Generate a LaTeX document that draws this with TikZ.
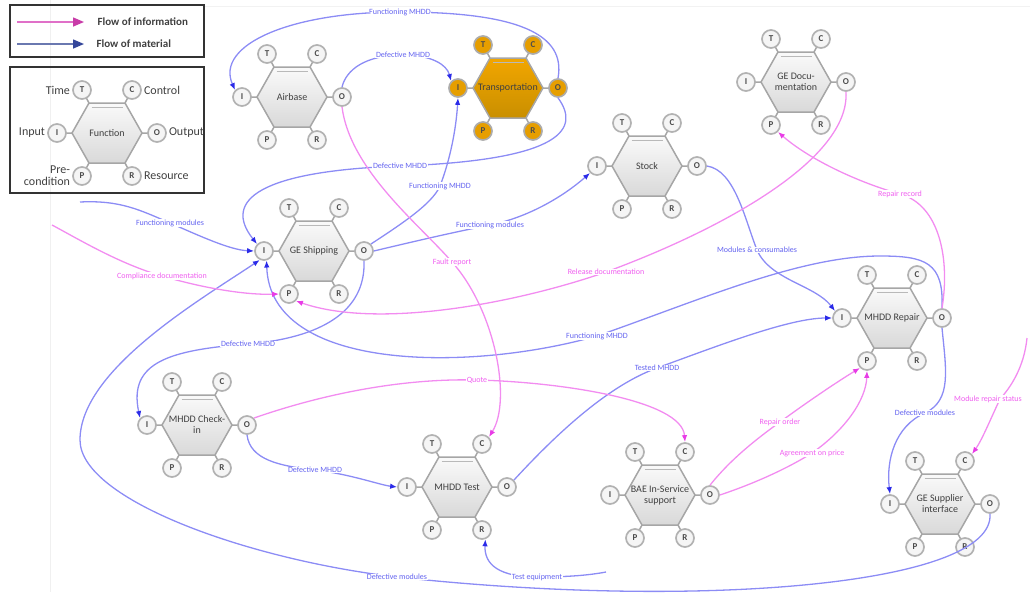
\documentclass[tikz,border=0pt]{standalone}
\usepackage{fontspec}
\setmainfont{Carlito}
\usepackage{tikz}
\usetikzlibrary{arrows.meta, calc, positioning}
\definecolor{matline}{HTML}{8C8CF5}
\definecolor{mattip}{HTML}{2B2BE8}
\definecolor{mattext}{HTML}{6464F0}
\definecolor{infoline}{HTML}{F28CF0}
\definecolor{infotip}{HTML}{E83CE6}
\definecolor{infotext}{HTML}{F060F0}
\definecolor{orangetop}{HTML}{F2A600}
\definecolor{orangebot}{HTML}{C98F00}
\definecolor{legpink}{HTML}{E070C8}
\definecolor{legpinktip}{HTML}{C83CA8}
\definecolor{legblue}{HTML}{6A78B0}
\definecolor{legbluetip}{HTML}{34469A}
\tikzstyle{port} = [circle, draw=gray!60, line width=1.7pt, fill=gray!8, minimum size=18pt, inner sep=0pt, font=\fontsize{9}{9}\selectfont\bfseries, text=black!70]
\tikzstyle{portorange} = [port, fill=orangetop!95!black, draw=gray!65]
\tikzstyle{hexgray} = [draw=gray!70, line width=1.5pt, top color=gray!4, bottom color=gray!30]
\tikzstyle{hexorange} = [draw=gray!70, line width=1.5pt, top color=orangetop, bottom color=orangebot]
\tikzstyle{hexedge} = [draw=gray!70, line width=1.5pt]
\tikzstyle{hexlbl} = [align=center, font=\fontsize{10}{11}\selectfont, text=black!75]
\tikzstyle{mat} = [draw=matline, line width=1.3pt, -{Latex[length=7pt,width=5.5pt,color=mattip]}]
\tikzstyle{info} = [draw=infoline, line width=1.3pt, -{Latex[length=7pt,width=5.5pt,color=infotip]}]
\tikzstyle{matlbl} = [fill=white, inner sep=0.6pt, text=mattext, font=\fontsize{8}{9}\selectfont]
\tikzstyle{infolbl} = [fill=white, inner sep=0.6pt, text=infotext, font=\fontsize{8}{9}\selectfont]
\tikzstyle{legbox} = [draw=black!80, line width=1.6pt]
\tikzstyle{legtxt} = [anchor=west, font=\fontsize{11}{12}\selectfont\bfseries, text=black!75]
\tikzstyle{legside} = [font=\fontsize{12}{12}\selectfont, text=black!75, inner sep=0pt]

% one FRAM function: name, centre, label, hexagon style, port style
\newcommand{\framfn}[5]{%
  \begin{scope}[shift={(#2)}]
    \draw[hexedge] (-25,-43) -- (-18,-30) (25,-43) -- (18,-30) (-50,0) -- (-35,0)
      (50,0) -- (35,0) (-25,43) -- (-18,30) (25,43) -- (18,30);
    \draw[#4] (-35,0) -- (-18,-30) -- (18,-30) -- (35,0) -- (18,30) -- (-18,30) -- cycle;
    \draw[draw=gray!55, line width=0.8pt] (-15.5,-26) -- (15.5,-26);
    \node[hexlbl] (#1) at (0,0) {#3};
    \node[#5] (#1-T) at (-25,-43) {T};
    \node[#5] (#1-C) at (25,-43) {C};
    \node[#5] (#1-I) at (-50,0) {I};
    \node[#5] (#1-O) at (50,0) {O};
    \node[#5] (#1-P) at (-25,43) {P};
    \node[#5] (#1-R) at (25,43) {R};
  \end{scope}}

\begin{document}
\begin{tikzpicture}[x=1pt, y=-1pt]
\useasboundingbox (0,0) rectangle (1030,592);
\clip (0,0) rectangle (1030,592);
\draw[gray!12, line width=1pt] (50,0) -- (50,592);
\draw[gray!10, line width=1pt] (205,6) -- (1030,6);

% legend
\draw[legbox] (10,5) rectangle (204,57);
\coordinate (infoA) at (17,22);
\coordinate (infoB) at (84,22);
\coordinate (matA) at (17,44);
\coordinate (matB) at (84,44);
\draw[draw=legpink, line width=1.5pt, -{Triangle[length=11pt,width=9pt,color=legpinktip]}] (infoA) -- (infoB);
\draw[draw=legblue, line width=1.5pt, -{Triangle[length=11pt,width=9pt,color=legbluetip]}] (matA) -- (matB);
\node[legtxt] at (94,22) {Flow of information};
\node[legtxt] at (93,44) {Flow of material};
\draw[legbox] (10,67) rectangle (204,193);
\framfn{fn}{107,133}{Function}{hexgray}{port}
\node[legside, left=2pt of fn-T] {Time};
\node[legside, right=2pt of fn-C] {Control};
\node[legside, left=2pt of fn-I] {Input};
\node[legside, right=2pt of fn-O] {Output};
\node[legside, left=2pt of fn-P, align=right] {Pre-\\condition};
\node[legside, right=2pt of fn-R] {Resource};

% functions
\framfn{airbase}{292,97}{Airbase}{hexgray}{port}
\framfn{transport}{508,88}{Transportation}{hexorange}{portorange}
\framfn{gedoc}{796,82}{GE Docu-\\mentation}{hexgray}{port}
\framfn{stock}{647,166}{Stock}{hexgray}{port}
\framfn{geship}{314,251}{GE Shipping}{hexgray}{port}
\framfn{repair}{892,318}{MHDD Repair}{hexgray}{port}
\framfn{checkin}{197,425}{MHDD Check-\\in}{hexgray}{port}
\framfn{test}{457,487}{MHDD Test}{hexgray}{port}
\framfn{bae}{660,495}{BAE In-Service\\support}{hexgray}{port}
\framfn{supplier}{940,504}{GE Supplier\\interface}{hexgray}{port}

% flow of material
\draw[mat] (transport-O.north) .. controls (566,35) and (520,12) .. (400,12) node[matlbl] {Functioning MHDD} .. controls (290,12) and (215,45) .. (airbase-I.north west);
\draw[mat] (airbase-O.north) .. controls (346,70) and (365,55) .. (403,55) node[matlbl] {Defective MHDD} .. controls (432,55) and (447,65) .. (transport-I.north west);
\draw[mat] (transport-O.south) .. controls (580,128) and (565,160) .. (400,166) node[matlbl] {Defective MHDD} .. controls (260,171) and (222,200) .. (geship-I.north west);
\draw[mat] (geship-O.north east) .. controls (395,228) and (432,205) .. (440,186) node[matlbl] {Functioning MHDD} .. controls (450,160) and (456,130) .. (transport-I.south);
\draw[mat] (geship-O.east) .. controls (420,240) and (455,232) .. (490,225) node[matlbl] {Functioning modules} .. controls (530,217) and (565,195) .. (stock-I.south west);
\coordinate (fmodin) at (80,202);
\draw[mat] (fmodin) .. controls (120,200) and (140,210) .. (170,223) node[matlbl] {Functioning modules} .. controls (200,236) and (230,250) .. (geship-I.west);
\draw[mat] (geship-O.south) .. controls (366,312) and (320,338) .. (248,344) node[matlbl] {Defective MHDD} .. controls (170,350) and (128,362) .. (checkin-I.north west);
\draw[mat] (repair-O.north) .. controls (944,262) and (925,256) .. (880,256) .. controls (800,256) and (700,300) .. (597,336) node[matlbl] {Functioning MHDD} .. controls (470,372) and (270,372) .. (geship-I.-75);
\draw[mat] (stock-O.east) .. controls (735,170) and (745,220) .. (757,250) node[matlbl] {Modules \& consumables} .. controls (770,280) and (815,285) .. (repair-I.north west);
\draw[mat] (test-O.north east) .. controls (560,430) and (610,385) .. (657,368) node[matlbl] {Tested MHDD} .. controls (720,345) and (790,318) .. (repair-I.west);
\draw[mat] (checkin-O.south) .. controls (250,460) and (280,466) .. (315,470) node[matlbl] {Defective MHDD} .. controls (350,474) and (380,485) .. (test-I.west);
\draw[mat] (repair-O.south) .. controls (946,370) and (952,400) .. (925,413) node[matlbl] {Defective modules} .. controls (895,426) and (886,460) .. (supplier-I.north);
\coordinate (testeqin) at (606,572);
\draw[mat] (testeqin) .. controls (590,575) and (570,577) .. (537,577) node[matlbl] {Test equipment} .. controls (500,577) and (484,565) .. (test-R.-70);
\draw[mat] (supplier-O.south) .. controls (995,585) and (700,610) .. (397,577) node[matlbl] {Defective modules} .. controls (250,560) and (80,500) .. (80,440) .. controls (80,370) and (200,300) .. (geship-I.-115);

% flow of information
\coordinate (compin) at (52,225);
\draw[info] (compin) .. controls (80,240) and (120,264) .. (162,276) node[infolbl] {Compliance documentation} .. controls (210,290) and (250,295) .. (geship-P.west);
\draw[info] (gedoc-O.south) .. controls (850,160) and (720,230) .. (606,272) node[infolbl] {Release documentation} .. controls (520,302) and (380,330) .. (geship-P.south east);
\draw[info] (repair-O.north) .. controls (950,260) and (940,205) .. (900,194) node[infolbl] {Repair record} .. controls (860,183) and (810,160) .. (gedoc-P.south east);
\draw[info] (airbase-O.south) .. controls (350,170) and (420,225) .. (452,262) node[infolbl] {Fault report} .. controls (495,310) and (512,400) .. (test-C.north east);
\draw[info] (checkin-O.north east) .. controls (320,395) and (400,378) .. (477,380) node[infolbl] {Quote} .. controls (560,382) and (682,400) .. (bae-C.north);
\draw[info] (bae-O.north) .. controls (730,460) and (755,440) .. (780,422) node[infolbl] {Repair order} .. controls (810,400) and (840,380) .. (repair-P.south west);
\draw[info] (bae-O.east) .. controls (750,485) and (785,470) .. (812,453) node[infolbl] {Agreement on price} .. controls (845,430) and (866,400) .. (repair-P.south);
\coordinate (modrepin) at (1027,338);
\draw[info] (modrepin) .. controls (1024,368) and (1010,388) .. (1000,399) node[infolbl, xshift=-12pt] {Module repair status} .. controls (991,418) and (982,440) .. (supplier-C.north east);
\end{tikzpicture}
\end{document}
